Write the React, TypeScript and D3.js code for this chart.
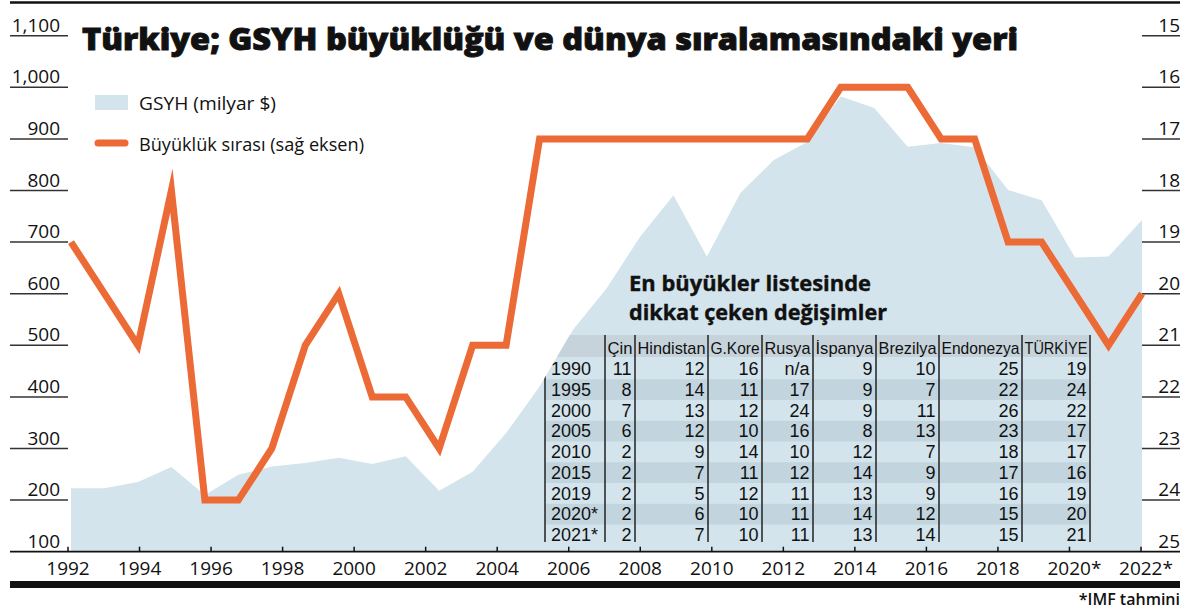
import React from "react";
import * as d3 from "d3";

// ---------- data ----------
const years = [1990, 1991, 1992, 1993, 1994, 1995, 1996, 1997, 1998, 1999, 2000, 2001, 2002, 2003, 2004, 2005, 2006, 2007, 2008, 2009, 2010, 2011, 2012, 2013, 2014, 2015, 2016, 2017, 2018, 2019, 2020, 2021, 2022];
const gdp = [223, 223, 235, 264, 210, 249, 265, 272, 282, 270, 285, 218, 255, 330, 420, 530, 610, 710, 791, 672, 795, 859, 894, 982, 960, 885, 892, 884, 801, 781, 670, 672, 743];
const ranks = [19, 20, 21, 18, 24, 24, 23, 21, 20, 22, 22, 23, 21, 21, 17, 17, 17, 17, 17, 17, 17, 17, 17, 16, 16, 16, 17, 17, 19, 19, 20, 21, 20];

const axisYears = [1992, 1994, 1996, 1998, 2000, 2002, 2004, 2006, 2008, 2010, 2012, 2014, 2016, 2018, 2020, 2022];
const axisYearLabels = ["1992", "1994", "1996", "1998", "2000", "2002", "2004", "2006", "2008", "2010", "2012", "2014", "2016", "2018", "2020*", "2022*"];
const leftTicks = [100, 200, 300, 400, 500, 600, 700, 800, 900, 1000, 1100];
const rightTicks = [15, 16, 17, 18, 19, 20, 21, 22, 23, 24, 25];

const tableColumns = ["Çin", "Hindistan", "G.Kore", "Rusya", "İspanya", "Brezilya", "Endonezya", "TÜRKİYE"];
const tableYears = ["1990", "1995", "2000", "2005", "2010", "2015", "2019", "2020*", "2021*"];
const cin = ["11", "8", "7", "6", "2", "2", "2", "2", "2"];
const hindistan = ["12", "14", "13", "12", "9", "7", "5", "6", "7"];
const gkore = ["16", "11", "12", "10", "14", "11", "12", "10", "10"];
const rusya = ["n/a", "17", "24", "16", "10", "12", "11", "11", "11"];
const ispanya = ["9", "9", "9", "8", "12", "14", "13", "14", "13"];
const brezilya = ["10", "7", "11", "13", "7", "9", "9", "12", "14"];
const endonezya = ["25", "22", "26", "23", "18", "17", "16", "15", "15"];
const turkiye = ["19", "24", "22", "17", "17", "16", "19", "20", "21"];
const tableValues = [cin, hindistan, gkore, rusya, ispanya, brezilya, endonezya, turkiye];

// ---------- styles ----------
const FONT = "'Open Sans', 'Noto Sans', sans-serif";
const TABLE_FONT = "'Liberation Sans Narrow', 'Liberation Sans', sans-serif";
const AREA = "#d3e4ec";
const BAND = "#c2d5df";
const HEADER_BAND = "#c6d3da";
const ORANGE = "#ec6a35";

export default function App() {
  const W = 1192, H = 613;
  const xL = 10, xR = 1180;
  const yTop = 35.7, yBase = 551.7;

  const xData = d3.scaleLinear().domain([1990, 2022]).range([71, 1142]);
  const xAxis = d3.scaleLinear().domain([1992, 2022]).range([68, 1141]);
  const yL = d3.scaleLinear().domain([100, 1100]).range([yBase, yTop]);
  const yR = d3.scaleLinear().domain([15, 25]).range([yTop, yBase]);

  const pts = years.map((y, i) => ({ year: y, gdp: gdp[i], rank: ranks[i] }));

  const areaGen = d3.area<any>().x((d) => xData(d.year)).y0(yL(100)).y1((d) => yL(d.gdp));
  const lineGen = d3.line<any>().x((d) => xData(d.year)).y((d) => yR(d.rank));
  const areaPath = areaGen(pts) || "";

  // table geometry
  const seps = [545, 605, 635, 708, 762, 813, 876, 939, 1022, 1090];
  const rowBase0 = 375;
  const rowPitch = 20.75;
  const headerBase = 354;
  const fmt = d3.format(",");

  return (
    <svg width={W} height={H} style={{ position: "absolute", left: 0, top: 0, display: "block", background: "#fff" }} fontFamily={FONT}>
      <defs>
        <clipPath id="areaClip">
          <path d={areaPath} />
        </clipPath>
      </defs>

      {/* top rule */}
      <line x1={xL} x2={xR} y1={2.5} y2={2.5} stroke="#111" strokeWidth={2.5} />

      {/* area */}
      <path d={areaPath} fill={AREA} />

      {/* table bands clipped to area */}
      <g clipPath="url(#areaClip)">
        <rect x={seps[0]} y={335} width={seps[seps.length - 1] - seps[0]} height={22} fill={HEADER_BAND} />
        {tableYears.map((_, i) =>
          i % 2 === 1 ? (
            <rect key={i} x={seps[0]} y={rowBase0 + i * rowPitch - 16.5} width={seps[seps.length - 1] - seps[0]} height={rowPitch} fill={BAND} />
          ) : null
        )}
        {seps.map((s, i) => (
          <line key={i} x1={s} x2={s} y1={i === 0 ? 360 : 335} y2={542} stroke="#222" strokeWidth={1.5} />
        ))}
      </g>

      {/* left axis */}
      {leftTicks.map((t) => (
        <g key={"l" + t}>
          {t !== 100 && <line x1={xL} x2={68} y1={yL(t)} y2={yL(t)} stroke="#333" strokeWidth={1.5} />}
          <text x={60} y={yL(t) - 4} textAnchor="end" fontSize={19} fill="#111">{fmt(t)}</text>
        </g>
      ))}

      {/* right axis */}
      {rightTicks.map((t) => (
        <g key={"r" + t}>
          {t !== 25 && <line x1={1142} x2={xR} y1={yR(t)} y2={yR(t)} stroke="#333" strokeWidth={1.5} />}
          <text x={xR} y={yR(t) - 4} textAnchor="end" fontSize={19} fill="#111">{t}</text>
        </g>
      ))}

      {/* x axis */}
      <line x1={xL} x2={xR} y1={yBase} y2={yBase} stroke="#111" strokeWidth={1.8} />
      {axisYears.map((y, i) => {
        const lab = axisYearLabels[i];
        const star = lab.endsWith("*");
        return (
          <g key={"x" + y}>
            <line x1={xAxis(y)} x2={xAxis(y)} y1={yBase} y2={yBase - 5} stroke="#111" strokeWidth={1.5} />
            <text x={xAxis(y) + (star ? 5 : 0)} y={575} textAnchor="middle" fontSize={19} fill="#111">{lab}</text>
          </g>
        );
      })}

      {/* rank line */}
      <path d={lineGen(pts) || ""} fill="none" stroke={ORANGE} strokeWidth={7} strokeLinejoin="miter" strokeMiterlimit={10} />

      {/* title */}
      <text x={82} y={50} fontSize={30} fontWeight={800} fill="#111" stroke="#111" strokeWidth={0.9} textLength={936} lengthAdjust="spacingAndGlyphs">
        Türkiye; GSYH büyüklüğü ve dünya sıralamasındaki yeri
      </text>

      {/* legend */}
      <rect x={95} y={95} width={33} height={15} fill={AREA} />
      <text x={139} y={110} fontSize={18} fill="#111" textLength={137} lengthAdjust="spacingAndGlyphs">GSYH (milyar $)</text>
      <line x1={98} x2={125} y1={143} y2={143} stroke={ORANGE} strokeWidth={7} strokeLinecap="round" />
      <text x={139} y={151} fontSize={18} fill="#111" textLength={225} lengthAdjust="spacingAndGlyphs">Büyüklük sırası (sağ eksen)</text>

      {/* table title */}
      <text x={629} y={291} fontSize={22} fontWeight={700} fill="#111" stroke="#111" strokeWidth={0.4} textLength={242} lengthAdjust="spacingAndGlyphs">En büyükler listesinde</text>
      <text x={629} y={320} fontSize={22} fontWeight={700} fill="#111" stroke="#111" strokeWidth={0.4} textLength={258} lengthAdjust="spacingAndGlyphs">dikkat çeken değişimler</text>

      {/* table */}
      <g fontFamily={TABLE_FONT}>
        {tableColumns.map((c, j) => (
          <text key={"h" + j} x={seps[j + 1] + 2.5} y={headerBase} fontSize={17} fill="#111" textLength={seps[j + 2] - seps[j + 1] - 5} lengthAdjust="spacingAndGlyphs">{c}</text>
        ))}
        {tableYears.map((yr, i) => (
          <g key={"row" + i}>
            <text x={551} y={rowBase0 + i * rowPitch} fontSize={18} fill="#111">{yr}</text>
            {tableValues.map((col, j) => (
              <text key={j} x={seps[j + 2] - 3.5} y={rowBase0 + i * rowPitch} textAnchor="end" fontSize={18} fill="#111">{col[i]}</text>
            ))}
          </g>
        ))}
      </g>

      {/* bottom bar & footnote */}
      <rect x={xL} y={581} width={xR - xL} height={7} fill="#111" />
      <text x={xR} y={605} textAnchor="end" fontSize={16} fontWeight={600} fill="#111">*IMF tahmini</text>
    </svg>
  );
}
